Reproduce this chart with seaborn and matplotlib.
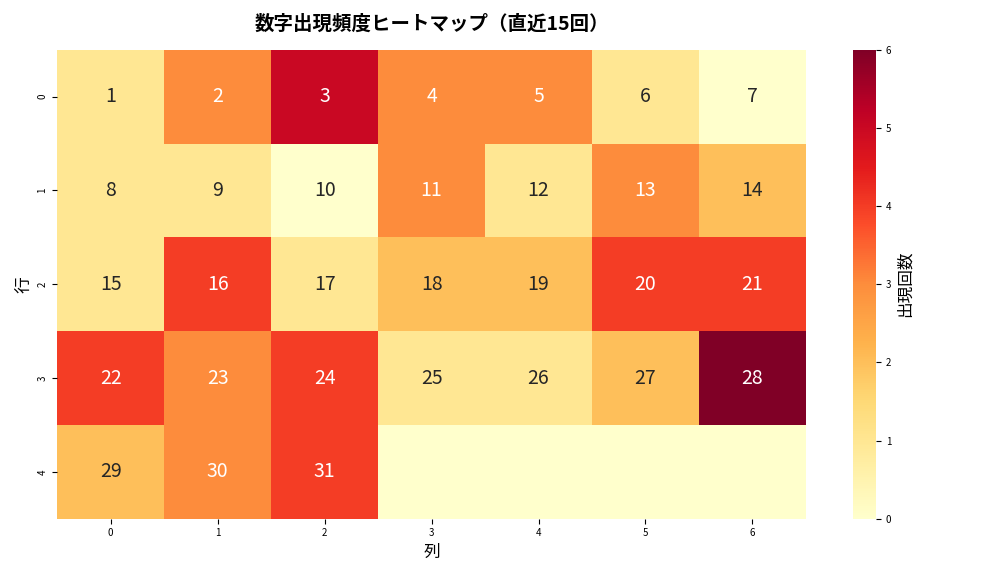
import numpy as np
import matplotlib
matplotlib.use("Agg")
import matplotlib.pyplot as plt
import seaborn as sns

plt.rcParams["font.family"] = "Noto Sans CJK JP"

rows = [0, 1, 2, 3, 4]
cols = [0, 1, 2, 3, 4, 5, 6]
counts_row0 = [1, 3, 5, 3, 3, 1, 0]
counts_row1 = [1, 1, 0, 3, 1, 3, 2]
counts_row2 = [1, 4, 1, 2, 2, 4, 4]
counts_row3 = [4, 3, 4, 1, 1, 2, 6]
counts_row4 = [2, 3, 4, 0, 0, 0, 0]
numbers = list(range(1, 32))

data = np.array([counts_row0, counts_row1, counts_row2, counts_row3, counts_row4])
labels = [str(n) for n in numbers] + [""] * (len(rows) * len(cols) - len(numbers))
annot = np.array(labels).reshape(len(rows), len(cols))

fig, ax = plt.subplots(figsize=(10.08, 5.76), dpi=100)
sns.heatmap(data, annot=annot, fmt="", cmap="YlOrRd", vmin=0, vmax=6, ax=ax,
            xticklabels=cols, yticklabels=rows,
            annot_kws={"size": 14}, cbar_kws={"label": "出現回数"})
ax.set_title("数字出現頻度ヒートマップ（直近15回）", fontsize=14, fontweight="bold", pad=14)
ax.set_xlabel("列", fontsize=12)
ax.set_ylabel("行", fontsize=12)
ax.tick_params(labelsize=7)
cb = ax.collections[0].colorbar
cb.ax.tick_params(labelsize=7)
cb.set_label("出現回数", fontsize=12)
plt.tight_layout()
plt.savefig("out.png", dpi=100)
